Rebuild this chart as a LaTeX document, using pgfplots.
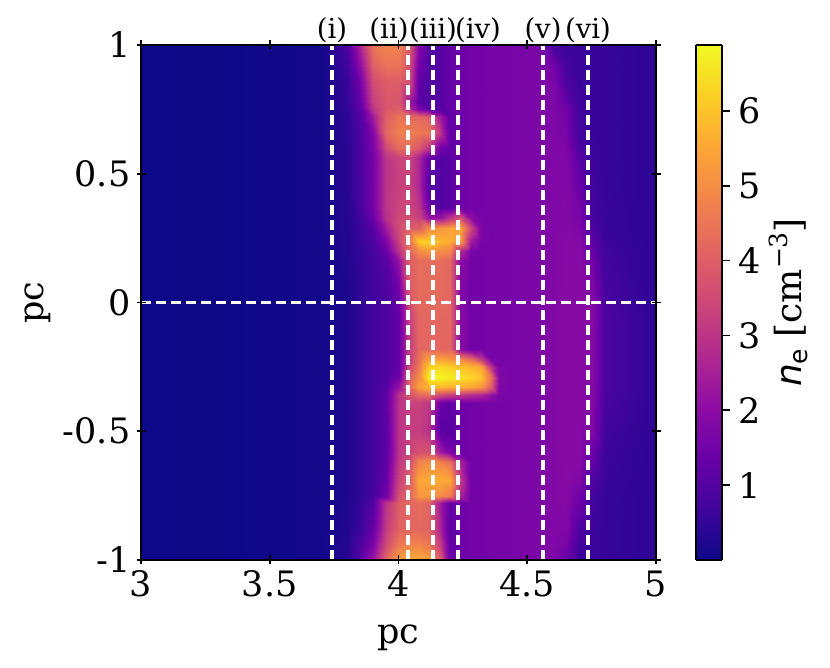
\documentclass[border=0pt]{standalone}
\usepackage{pgfplots}
\pgfplotsset{compat=1.18}
\usepackage{fontspec}
\setmainfont{DejaVu Serif}
\newfontfamily\dvsans{DejaVu Sans}
\pgfplotsset{colormap={plasmamap}{
rgb255=(13,8,135) rgb255=(65,4,157) rgb255=(106,0,168) rgb255=(143,13,164) rgb255=(177,42,144)
rgb255=(204,71,120) rgb255=(225,100,98) rgb255=(242,132,75) rgb255=(252,166,54) rgb255=(252,206,37) rgb255=(240,249,33)}}
\def\xs{{3.0,3.4,3.7,3.8,3.85,3.9,3.95,4.0,4.04,4.08,4.12,4.16,4.2,4.24,4.28,4.32,4.36,4.39,4.45,4.55,4.6,4.65,4.7,4.75,4.8,5.0}}
\gdef\allcoords{}
\foreach \yv/\row in {
1.0/{0,.02,.08,.9,2.6,4.5,4.8,4.8,4.0,1.8,.95,1.05,1.3,1.45,1.5,1.55,1.58,1.6,1.62,1.7,.8,.62,.6,.58,.55,.42},
0.93/{0,.02,.08,.7,2.1,4.1,4.5,4.5,3.7,1.5,.95,1.05,1.3,1.45,1.5,1.55,1.58,1.6,1.62,1.7,1.5,.72,.6,.58,.55,.42},
0.86/{0,.02,.08,.55,1.6,3.6,4.0,4.0,3.6,1.2,.95,1.05,1.3,1.45,1.5,1.55,1.58,1.6,1.62,1.7,1.7,.9,.62,.58,.55,.42},
0.78/{0,.02,.08,.5,1.3,3.3,3.8,3.8,2.4,1.1,.95,1.05,1.3,1.45,1.5,1.55,1.58,1.6,1.62,1.7,1.75,1.3,.68,.58,.55,.42},
0.75/{0,.02,.08,.45,1.1,3.0,3.8,4.0,2.8,1.7,1.2,1.05,1.3,1.45,1.5,1.55,1.58,1.6,1.62,1.7,1.75,1.5,.72,.58,.55,.42},
0.72/{0,.02,.08,.4,1.0,2.4,4.0,4.5,4.3,4.2,4.0,2.4,1.2,1.45,1.5,1.55,1.58,1.6,1.62,1.7,1.75,1.55,.72,.58,.55,.42},
0.66/{0,.02,.08,.4,.9,1.8,4.2,4.7,4.7,4.6,4.5,3.0,1.2,1.45,1.5,1.55,1.58,1.6,1.62,1.7,1.75,1.6,.75,.58,.55,.42},
0.60/{0,.02,.08,.35,.85,1.7,3.5,4.3,4.3,3.8,3.0,1.5,1.15,1.45,1.5,1.55,1.58,1.6,1.62,1.7,1.78,1.75,.9,.6,.55,.42},
0.56/{0,.02,.08,.35,.85,1.6,3.0,3.4,3.4,2.6,1.3,1.0,1.1,1.45,1.5,1.55,1.58,1.6,1.62,1.7,1.78,1.78,1.1,.6,.55,.42},
0.46/{0,.02,.08,.35,.8,1.6,3.0,3.3,3.3,2.6,1.0,1.0,1.1,1.45,1.5,1.55,1.58,1.6,1.62,1.7,1.78,1.82,1.35,.68,.55,.42},
0.37/{0,.02,.08,.3,.8,1.6,3.0,3.4,3.4,3.0,1.3,1.0,1.1,1.45,1.5,1.55,1.58,1.6,1.62,1.7,1.78,1.85,1.6,.72,.58,.42},
0.33/{0,.02,.08,.3,.7,1.4,2.9,3.5,3.6,3.3,2.2,2.2,3.0,3.8,2.1,1.6,1.58,1.6,1.62,1.7,1.78,1.85,1.65,.78,.58,.42},
0.29/{0,.02,.08,.3,.6,1.1,2.4,3.6,3.9,4.0,5.0,5.2,5.4,5.6,3.4,1.7,1.58,1.6,1.62,1.7,1.8,1.85,1.72,.88,.58,.42},
0.24/{0,.02,.08,.28,.55,.9,1.8,3.4,4.5,6.2,6.3,5.8,5.6,5.4,2.4,1.6,1.58,1.6,1.62,1.7,1.8,1.9,1.85,1.15,.62,.42},
0.20/{0,.02,.08,.28,.5,.8,1.4,3.0,4.2,5.0,5.2,5.0,4.8,2.8,1.6,1.55,1.58,1.6,1.62,1.7,1.8,1.9,1.9,1.35,.68,.42},
0.16/{0,.02,.08,.24,.5,.75,1.1,2.2,4.0,4.3,4.3,4.3,4.2,2.0,1.5,1.55,1.58,1.6,1.62,1.7,1.8,1.9,1.9,1.5,.7,.42},
0.06/{0,.02,.08,.22,.45,.7,.9,1.6,3.9,4.3,4.3,4.3,4.2,1.85,1.5,1.55,1.58,1.6,1.62,1.7,1.82,1.92,1.92,1.8,.78,.42},
-0.06/{0,.02,.08,.22,.45,.7,.9,1.3,3.2,4.2,4.2,4.2,4.2,1.95,1.5,1.55,1.58,1.6,1.62,1.7,1.82,1.92,1.92,1.9,.88,.42},
-0.18/{0,.02,.08,.22,.45,.7,.9,1.3,3.2,4.2,4.2,4.2,4.2,1.95,1.5,1.55,1.58,1.6,1.62,1.7,1.82,1.92,1.92,1.9,.88,.42},
-0.22/{0,.02,.08,.22,.45,.7,.9,1.3,3.2,4.4,5.4,5.4,5.2,4.9,4.3,3.2,1.7,1.6,1.62,1.7,1.82,1.92,1.92,1.9,.88,.42},
-0.25/{0,.02,.08,.22,.45,.7,.9,1.3,3.4,4.6,6.3,6.4,6.2,6.0,5.8,5.5,3.0,1.7,1.62,1.7,1.82,1.92,1.92,1.9,.88,.42},
-0.29/{0,.02,.08,.22,.45,.7,.9,1.5,4.0,5.0,6.8,6.85,6.7,6.5,6.3,6.0,4.4,1.8,1.62,1.7,1.82,1.92,1.92,1.9,.88,.42},
-0.33/{0,.02,.08,.22,.45,.7,1.0,2.2,4.2,5.4,5.8,5.8,5.7,5.6,5.5,5.2,4.0,1.75,1.62,1.7,1.82,1.92,1.92,1.9,.88,.42},
-0.36/{0,.02,.08,.22,.45,.7,1.1,3.0,3.8,4.2,4.3,3.5,3.2,3.0,2.8,2.6,2.1,1.65,1.62,1.7,1.82,1.92,1.92,1.85,.82,.42},
-0.39/{0,.02,.08,.22,.45,.7,1.2,3.0,3.3,3.3,3.0,1.4,1.2,1.45,1.5,1.55,1.58,1.6,1.62,1.7,1.82,1.92,1.92,1.85,.78,.42},
-0.5/{0,.02,.08,.22,.45,.7,1.1,3.0,3.2,3.2,2.9,1.1,1.05,1.45,1.5,1.55,1.58,1.6,1.62,1.7,1.82,1.92,1.9,1.8,.68,.42},
-0.58/{0,.02,.08,.22,.45,.7,1.1,3.0,3.3,3.7,3.7,2.4,1.7,1.45,1.5,1.55,1.58,1.6,1.62,1.7,1.82,1.92,1.92,1.4,.62,.42},
-0.62/{0,.02,.08,.22,.45,.7,1.2,3.1,3.6,4.8,5.0,4.8,4.4,2.6,1.5,1.55,1.58,1.6,1.62,1.7,1.82,1.92,1.92,1.25,.6,.42},
-0.69/{0,.02,.08,.22,.45,.7,1.3,3.4,4.0,5.5,5.6,5.6,5.5,3.2,1.5,1.55,1.58,1.6,1.62,1.7,1.82,1.9,1.8,.88,.58,.42},
-0.75/{0,.02,.08,.22,.45,.75,1.5,3.7,4.2,5.2,5.2,5.0,4.6,2.6,1.5,1.55,1.58,1.6,1.62,1.7,1.82,1.9,1.5,.72,.55,.42},
-0.78/{0,.02,.08,.22,.5,1.0,3.0,4.0,4.2,4.3,4.1,2.4,1.3,1.45,1.5,1.55,1.58,1.6,1.62,1.7,1.82,1.88,1.4,.68,.55,.42},
-0.88/{0,.02,.08,.25,.6,1.3,3.2,4.1,4.2,4.2,4.1,2.6,1.1,1.45,1.5,1.55,1.58,1.6,1.62,1.7,1.8,1.82,.95,.62,.55,.42},
-0.94/{0,.02,.08,.3,.9,1.7,3.6,4.6,4.8,4.8,4.6,3.2,1.2,1.45,1.5,1.55,1.58,1.6,1.62,1.7,1.8,1.65,.68,.6,.55,.42},
-1.0/{0,.02,.08,.35,1.0,2.2,4.2,5.4,5.6,5.6,5.4,4.0,1.4,1.45,1.5,1.55,1.58,1.6,1.62,1.7,1.82,1.3,.62,.58,.55,.42}%
}{%
\foreach \z [count=\i from 0] in \row {%
\pgfmathsetmacro\xv{\xs[\i]}%
\xdef\allcoords{\allcoords (\xv,\yv,\z)}%
}}
\newcommand\plotheat[1]{\addplot3[surf,shader=interp,mesh/rows=34,mesh/cols=26,point meta=z] coordinates {#1};}
\begin{document}
\begin{tikzpicture}[x=1pt,y=1pt]
\path[use as bounding box] (0,0) rectangle (830,668);
\begin{axis}[at={(141pt,108pt)},anchor=south west,scale only axis,width=515pt,height=515pt,
view={0}{90},axis on top,clip=true,
xmin=3,xmax=5,ymin=-1,ymax=1,zmin=0,zmax=8,ztick=\empty,
xtick={3,3.5,4,4.5,5},xticklabels={3,3.5,4,4.5,5},
ytick={-1,-0.5,0,0.5,1},yticklabels={-1,-0.5,0,0.5,1},
tick align=center,major tick length=9pt,
axis line style={line width=1.8pt},every tick/.style={black,line width=1.6pt},
tick label style={font=\fontsize{35}{38}\selectfont},
xticklabel style={inner sep=0pt,yshift=-6pt},
yticklabel style={inner sep=0pt,xshift=-6pt},
xlabel={pc},ylabel={pc},
label style={font=\fontsize{35}{38}\selectfont},
xlabel style={yshift=-24pt},
ylabel style={yshift=8pt},
colormap name=plasmamap,point meta min=0,point meta max=6.88,
]
\expandafter\plotheat\expandafter{\allcoords}
\addplot3[white,line width=3.2pt,dash pattern=on 10pt off 5pt] coordinates {(3.742,-1,7) (3.742,1,7)};
\addplot3[white,line width=3.2pt,dash pattern=on 10pt off 5pt] coordinates {(4.037,-1,7) (4.037,1,7)};
\addplot3[white,line width=3.2pt,dash pattern=on 10pt off 5pt] coordinates {(4.134,-1,7) (4.134,1,7)};
\addplot3[white,line width=3.2pt,dash pattern=on 10pt off 5pt] coordinates {(4.231,-1,7) (4.231,1,7)};
\addplot3[white,line width=3.2pt,dash pattern=on 10pt off 5pt] coordinates {(4.561,-1,7) (4.561,1,7)};
\addplot3[white,line width=3.2pt,dash pattern=on 10pt off 5pt] coordinates {(4.736,-1,7) (4.736,1,7)};
\addplot3[white,line width=3.2pt,dash pattern=on 10pt off 5pt] coordinates {(3,0,7) (5,0,7)};
\end{axis}
\begin{axis}[at={(696pt,108pt)},anchor=south west,scale only axis,width=26pt,height=515pt,
view={0}{90},axis on top,
xmin=0,xmax=1,ymin=0,ymax=6.88,zmin=0,zmax=8,xtick=\empty,ztick=\empty,
ytick={1,2,3,4,5,6},yticklabels={1,2,3,4,5,6},
ytick pos=right,yticklabel pos=right,tick align=outside,major tick length=8pt,
axis line style={line width=1.8pt},every tick/.style={black,line width=1.6pt},
yticklabel style={inner sep=0pt,xshift=8pt,font=\fontsize{35}{38}\selectfont},
ylabel={{\dvsans\itshape n}\raisebox{-6pt}{\dvsans\fontsize{25}{25}\selectfont e} [cm\raisebox{14pt}{\fontsize{25}{25}\selectfont −3}]},
ylabel style={font=\fontsize{36}{38}\selectfont,yshift=-5pt},
colormap name=plasmamap,point meta min=0,point meta max=6.88,
]
\addplot3[surf,shader=interp,mesh/rows=3,mesh/cols=2,point meta=z] coordinates {
(0,0,0) (1,0,0)
(0,3.44,3.44) (1,3.44,3.44)
(0,6.88,6.88) (1,6.88,6.88)};
\end{axis}
\foreach \px/\lab in {332/(i),389/(ii),433/(iii),478/(iv),543/(v),588/(vi)}{
\node[font=\fontsize{27.5}{29}\selectfont,inner sep=0pt] at (\px,638) {\lab};}
\end{tikzpicture}
\end{document}
